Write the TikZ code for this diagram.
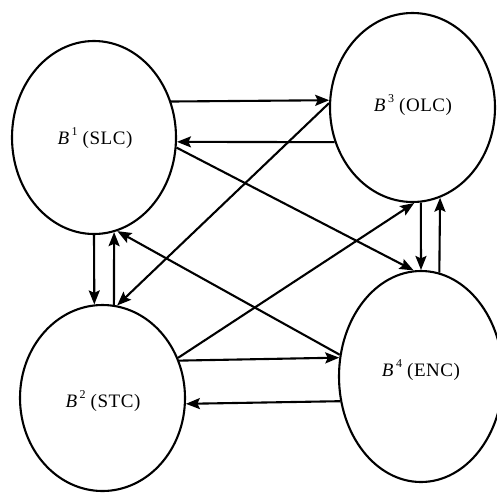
\documentclass[tikz,border=0pt]{standalone}
\usepackage{fontspec}
\setmainfont{Liberation Serif}
\usetikzlibrary{shapes.geometric,arrows.meta}
% block label: italic B, raised index, then the abbreviation in brackets
\newcommand{\blklabel}[2]{\textit{B}\kern2pt\raisebox{0.45em}{\fontsize{12}{12}\selectfont #1}\kern5pt(#2)}

\begin{document}
\begin{tikzpicture}[x=1pt,y=-1pt,
  blob/.style={draw, ellipse, line width=2.1pt, inner sep=0pt},
  tag/.style={font=\fontsize{19}{22}\selectfont\addfontfeature{LetterSpace=3}, inner sep=0pt},
  link/.style={line width=2.1pt, -{Stealth[length=14pt,width=11pt,inset=2.5pt]}}]
\useasboundingbox (0,0) rectangle (497,493);

% the four blocks
\node[blob, minimum width=164pt, minimum height=193pt] (b1) at (94,137.5) {};
\node[blob, minimum width=165pt, minimum height=189pt] (b3) at (412.5,107.5) {};
\node[blob, minimum width=165pt, minimum height=186pt] (b2) at (102.5,398) {};
\node[blob, minimum width=164pt, minimum height=211pt] (b4) at (421,376.5) {};

\node[tag] (t1) at (95,138) {\blklabel{1}{SLC}};
\node[tag] (t3) at (413,105) {\blklabel{3}{OLC}};
\node[tag] (t2) at (103,401) {\blklabel{2}{STC}};
\node[tag] (t4) at (421,370) {\blklabel{4}{ENC}};

% B1 <-> B3
\draw[link] (b1.25.65) -- (b3.175.5);
\draw[link] (b3.204.9) -- (b1.-3.84);
% B3 -> B2 and B2 -> B3
\draw[link] (b3.177.6) -- (b2.81);
\draw[link] (b2.28.2) -- (b3.-89.7);
% B1 -> B4 and B4 -> B1
\draw[link] (b1.-7) -- (b4.94.9);
\draw[link] (b4.165.7) -- (b1.-76.05);
% B2 <-> B4
\draw[link] (b2.26) -- (b4.167.8);
\draw[link] (b4.197.8) -- (b2.-4.17);
% B1 <-> B2
\draw[link] (b1.-90.6) -- (b2.95.9);
\draw[link] (b2.83.5) -- (b1.-78.6);
% B3 <-> B4
\draw[link] (b3.-85.4) -- (b4.90.5);
\draw[link] (b4.80.1) -- (b3.-73.5);
\end{tikzpicture}
\end{document}
